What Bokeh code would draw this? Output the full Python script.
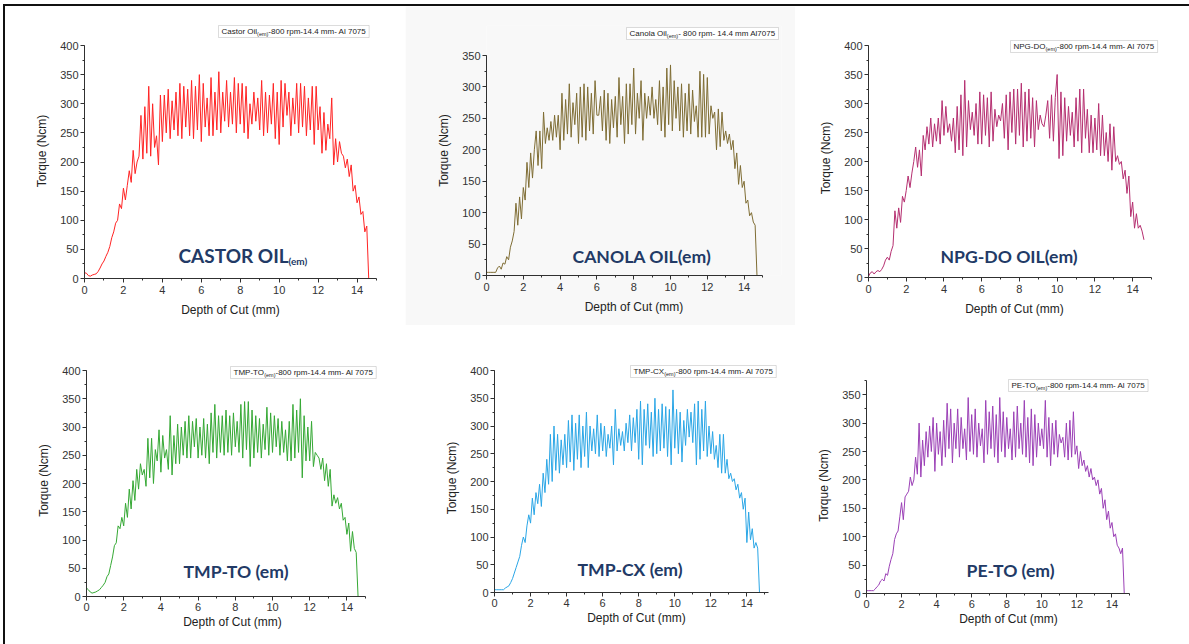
import math
from bokeh.plotting import figure
from bokeh.models import Range1d, SingleIntervalTicker, Label, BoxAnnotation
from bokeh.layouts import row, column
from bokeh.embed import file_html
from bokeh.resources import INLINE

# ---------------- data (Torque in Ncm, sampled every 0.1 mm of depth) ----------------
castor_torque = [
    10, 9, 5, 4, 6, 7, 8, 12, 18, 25,
    30, 38, 45, 55, 70, 80, 95, 100, 128, 120,
    155, 135, 160, 185, 165, 220, 180, 200, 210, 280,
    205, 295, 215, 330, 210, 300, 225, 245, 195, 315,
    235, 315, 250, 325, 240, 305, 255, 320, 245, 335,
    240, 330, 260, 325, 245, 340, 240, 330, 255, 350,
    235, 335, 260, 310, 245, 345, 245, 320, 255, 355,
    250, 320, 270, 340, 260, 320, 265, 345, 250, 335,
    265, 335, 250, 330, 240, 300, 265, 320, 270, 310,
    255, 340, 245, 320, 250, 315, 265, 335, 240, 320,
    230, 340, 260, 335, 280, 320, 245, 310, 265, 335,
    250, 335, 260, 330, 245, 310, 255, 330, 230, 330,
    255, 295, 215, 285, 220, 265, 240, 310, 195, 240,
    200, 235, 215, 210, 190, 205, 175, 195, 150, 160,
    130, 140, 110, 115, 80, 90, 0]

canola_torque = [
    5, 5, 5, 5, 5, 5, 12, 15, 10, 20,
    18, 30, 25, 45, 55, 70, 115, 80, 125, 90,
    140, 120, 180, 140, 195, 155, 200, 230, 175, 230,
    170, 260, 210, 235, 215, 245, 215, 255, 220, 255,
    200, 290, 215, 280, 225, 305, 220, 275, 240, 290,
    210, 300, 220, 305, 215, 300, 230, 290, 225, 310,
    255, 255, 285, 230, 295, 215, 290, 210, 280, 235,
    285, 220, 315, 240, 285, 210, 305, 225, 305, 240,
    330, 225, 290, 250, 310, 215, 290, 250, 285, 255,
    300, 250, 280, 240, 310, 230, 300, 220, 330, 240,
    335, 230, 310, 250, 300, 230, 305, 220, 290, 230,
    305, 225, 295, 245, 270, 220, 325, 220, 320, 220,
    315, 225, 270, 250, 260, 200, 265, 205, 260, 215,
    230, 210, 225, 200, 215, 170, 195, 145, 175, 140,
    150, 115, 120, 95, 100, 85, 80, 0]

npgdo_torque = [
    2, 8, 10, 6, 10, 12, 10, 14, 20, 30,
    35, 30, 45, 55, 115, 85, 120, 95, 140, 130,
    150, 175, 155, 180, 200, 225, 190, 220, 175, 245,
    220, 260, 230, 275, 225, 265, 235, 275, 230, 305,
    245, 295, 250, 265, 235, 275, 215, 295, 220, 315,
    210, 340, 225, 305, 255, 285, 245, 300, 230, 320,
    230, 315, 245, 310, 225, 320, 235, 290, 260, 280,
    270, 300, 240, 315, 220, 320, 250, 325, 230, 325,
    245, 335, 225, 320, 235, 325, 240, 310, 225, 305,
    255, 280, 265, 260, 280, 305, 240, 315, 235, 310,
    350, 205, 320, 210, 310, 235, 295, 245, 285, 225,
    310, 235, 325, 215, 325, 240, 290, 215, 280, 215,
    275, 220, 300, 210, 280, 210, 250, 200, 265, 185,
    260, 200, 210, 195, 200, 170, 185, 145, 175, 105,
    130, 85, 110, 85, 90, 80, 65]

tmpto_torque = [
    15, 12, 8, 6, 7, 8, 10, 12, 16, 20,
    25, 35, 40, 55, 70, 90, 95, 125, 120, 140,
    125, 165, 140, 190, 155, 205, 170, 225, 190, 235,
    215, 225, 195, 280, 210, 280, 200, 260, 240, 295,
    220, 285, 245, 260, 225, 320, 215, 285, 235, 305,
    235, 300, 250, 310, 245, 320, 245, 310, 265, 315,
    245, 300, 250, 315, 245, 305, 235, 325, 255, 340,
    245, 320, 255, 320, 250, 330, 255, 320, 250, 325,
    265, 310, 255, 340, 245, 345, 260, 345, 230, 330,
    245, 320, 255, 315, 245, 305, 260, 335, 250, 325,
    255, 320, 265, 315, 250, 310, 255, 295, 240, 310,
    240, 340, 245, 330, 255, 350, 210, 320, 240, 300,
    240, 310, 230, 255, 250, 245, 225, 245, 205, 235,
    195, 225, 160, 180, 165, 175, 155, 165, 135, 140,
    110, 130, 80, 115, 85, 78, 0]

tmpcx_torque = [
    5, 5, 5, 5, 5, 5, 8, 10, 12, 18,
    25, 35, 45, 55, 65, 85, 100, 90, 120, 140,
    125, 170, 140, 180, 160, 195, 155, 215, 180, 240,
    195, 285, 200, 300, 220, 285, 215, 275, 230, 285,
    225, 310, 235, 320, 220, 305, 240, 320, 225, 300,
    245, 325, 225, 300, 255, 295, 250, 320, 245, 305,
    255, 300, 245, 285, 260, 300, 230, 330, 255, 295,
    265, 290, 255, 305, 270, 320, 255, 315, 270, 330,
    240, 345, 230, 330, 265, 340, 260, 325, 245, 350,
    250, 330, 255, 340, 260, 335, 245, 330, 230, 365,
    260, 330, 250, 325, 235, 310, 265, 330, 280, 325,
    270, 340, 230, 345, 240, 330, 255, 345, 245, 300,
    250, 290, 240, 265, 225, 285, 215, 285, 215, 240,
    205, 215, 200, 205, 185, 195, 170, 180, 150, 170,
    90, 145, 95, 115, 80, 90, 80, 0]

peto_torque = [
    5, 5, 5, 5, 5, 8, 12, 15, 22, 25,
    22, 35, 32, 48, 60, 70, 95, 105, 110, 135,
    160, 130, 170, 175, 180, 205, 190, 200, 240, 210,
    300, 205, 270, 225, 285, 240, 295, 250, 310, 215,
    300, 245, 285, 225, 305, 240, 335, 255, 325, 230,
    300, 255, 325, 240, 310, 255, 290, 235, 345, 250,
    315, 245, 325, 240, 300, 260, 290, 230, 340, 245,
    320, 255, 330, 240, 315, 230, 345, 250, 320, 240,
    310, 255, 290, 235, 320, 240, 330, 255, 300, 245,
    340, 240, 310, 230, 325, 225, 315, 240, 300, 260,
    290, 255, 340, 240, 310, 225, 300, 245, 305, 240,
    280, 265, 275, 240, 300, 235, 305, 240, 320, 245,
    260, 220, 250, 225, 235, 215, 225, 205, 220, 200,
    205, 190, 200, 175, 185, 150, 165, 130, 145, 115,
    125, 100, 105, 85, 80, 70, 80, 0]

DEPTH_STEP = 0.1
x_ticks_interval = 2
y_ticks_interval = 50
x_label = "Depth of Cut (mm)"
y_label = "Torque (Ncm)"

legend_texts = [
    ("Castor Oil", "(em)", "-800 rpm-14.4 mm- Al 7075"),
    ("Canola Oil", "(em)", "- 800 rpm- 14.4 mm Al7075"),
    ("NPG-DO", "(em)", "-800 rpm-14.4 mm- Al 7075"),
    ("TMP-TO", "(em)", "-800 rpm-14.4 mm- Al 7075"),
    ("TMP-CX", "(em)", "-800 rpm-14.4 mm- Al 7075"),
    ("PE-TO", "(em)", "-800 rpm-14.4 mm- Al 7075"),
]
big_labels = [
    ("CASTOR OIL", "(em)"),
    ("CANOLA OIL(em)", None),
    ("NPG-DO OIL(em)", None),
    ("TMP-TO (em)", None),
    ("TMP-CX (em)", None),
    ("PE-TO (em)", None),
]
series = [castor_torque, canola_torque, npgdo_torque, tmpto_torque, tmpcx_torque, peto_torque]
y_ends = [400, 350, 400, 400, 400, 375]
x_ends = [15, 15, 15, 15, 15.2, 15]

# ---------------- layout / style (absolute page pixels) ----------------
colors = ["#ff2424", "#7f6d34", "#b52f70", "#35a834", "#2ba6e6", "#9b40b6"]
# figure box (x0, y0, x1, y1) and axis frame (left, top, right, bottom)
boxes = [(5, 6, 405, 325), (405, 6, 795, 325), (795, 6, 1189, 325),
         (5, 325, 405, 644), (405, 325, 795, 644), (795, 325, 1189, 644)]
frames = [(84, 45, 376, 278), (486, 55, 762, 275), (868, 45, 1151, 277),
          (86, 370, 365, 596), (494, 370, 768, 592), (866, 380, 1129, 593)]
legend_pos = [(218, 25, 37), (626, 27, 39), (1010, 40, 52),
              (230, 366, 378), (630, 365, 377), (1008, 379, 391)]
big_pos = [(178, 255), (572, 256), (940, 256), (183, 571), (577, 569), (966, 570)]
bg = ["white", "#f8f8f8", "white", "white", "white", "white"]
x_tick_standoff = [3, 3, 3, 2, 2, 2]
x_label_standoff = [6, 6, 6, 1, 1, 1]

ARIAL = {' ': 278, '-': 333, '.': 278, '(': 333, ')': 333, 'A': 667, 'C': 722, 'D': 722,
         'E': 667, 'G': 778, 'I': 278, 'M': 833, 'N': 722, 'O': 778, 'P': 667, 'T': 611,
         'X': 667, 'l': 222, 'a': 556, 'e': 556, 'm': 833, 'n': 556, 'o': 556, 'r': 333,
         's': 500, 't': 278, 'p': 556, 'i': 222}


def text_w(s, size):
    return sum(ARIAL.get(c, 556) for c in s) / 1000.0 * size


NAVY = "#223a66"
AXIS_COL = "#303030"
LEG_FS = 8.0
SUB_FS = 5.5
BIG_FS = 17.6


def make_panel(i):
    bx0, by0, bx1, by1 = boxes[i]
    fl, ft, fr, fb = frames[i]
    W, H = bx1 - bx0, by1 - by0
    xe, ye = x_ends[i], y_ends[i]

    def dx(px):
        return (px - fl) / (fr - fl) * xe

    def dy(py):
        return (fb - py) / (fb - ft) * ye

    lx, lt, lb = legend_pos[i]
    a, sub, b = legend_texts[i]
    wa, ws, wb = text_w(a, LEG_FS), text_w(sub, SUB_FS), text_w(b, LEG_FS)
    total = wa + ws + wb + 6

    # plotting frame enlarged so that the legend box sits inside it
    top_px = int(min(ft, lt - 2))
    right_px = int(math.ceil(max(fr, lx + total + 2)))

    p = figure(width=W, height=H, output_backend="svg", toolbar_location=None,
               x_range=Range1d(0, dx(right_px)), y_range=Range1d(0, dy(top_px)),
               min_border_left=int(fl - bx0), min_border_right=int(bx1 - right_px),
               min_border_top=int(top_px - by0), min_border_bottom=int(by1 - fb))
    p.title_location = None
    if "frame_align" in p.properties():
        p.frame_align = False
    p.background_fill_color = bg[i]
    p.border_fill_color = bg[i]
    p.outline_line_color = None
    p.grid.visible = False
    p.xaxis.ticker = SingleIntervalTicker(interval=x_ticks_interval, num_minor_ticks=2)
    p.yaxis.ticker = SingleIntervalTicker(interval=y_ticks_interval, num_minor_ticks=2)
    p.xaxis.bounds = (0, xe)
    p.yaxis.bounds = (0, ye)
    p.xaxis.axis_label = x_label
    p.yaxis.axis_label = y_label
    for ax in p.xaxis + p.yaxis:
        ax.axis_line_color = AXIS_COL
        ax.major_tick_line_color = AXIS_COL
        ax.minor_tick_line_color = AXIS_COL
        ax.major_tick_in = 0
        ax.major_tick_out = 4
        ax.minor_tick_in = 0
        ax.minor_tick_out = 2
        ax.major_label_text_font = "Liberation Sans"
        ax.major_label_text_font_size = "11px"
        ax.major_label_text_color = "#333333"
        ax.axis_label_text_font = "Liberation Sans"
        ax.axis_label_text_font_size = "12px"
        ax.axis_label_text_font_style = "normal"
        ax.axis_label_text_color = "#222222"
    p.yaxis.major_label_standoff = 2
    p.yaxis.axis_label_standoff = 8
    p.xaxis.major_label_standoff = x_tick_standoff[i]
    p.xaxis.axis_label_standoff = x_label_standoff[i]

    ys = series[i]
    xs = [round(k * DEPTH_STEP, 2) for k in range(len(ys))]
    p.line(xs, ys, line_color=colors[i], line_width=1.0)

    # legend box
    p.add_layout(BoxAnnotation(left=dx(lx), right=dx(lx + total), top=dy(lt), bottom=dy(lb),
                               fill_color="white", fill_alpha=1.0,
                               line_color="#8a8a8a", line_width=1))
    cy = (lt + lb) / 2.0
    common = dict(text_font="Liberation Sans", text_color="#222222", text_align="left",
                  text_baseline="middle")
    p.add_layout(Label(x=dx(lx + 3), y=dy(cy), text=a, text_font_size=f"{LEG_FS}px", **common))
    p.add_layout(Label(x=dx(lx + 3 + wa), y=dy(cy + 2), text=sub, text_font_size=f"{SUB_FS}px", **common))
    p.add_layout(Label(x=dx(lx + 3 + wa + ws), y=dy(cy), text=b, text_font_size=f"{LEG_FS}px", **common))

    # big name label
    gx, gy = big_pos[i]
    main, subbig = big_labels[i]
    fs = 19 if subbig else BIG_FS
    p.add_layout(Label(x=dx(gx), y=dy(gy), text=main, text_font="Lato",
                       text_font_style="bold", text_font_size=f"{fs}px", text_color=NAVY,
                       text_align="left", text_baseline="middle"))
    if subbig:
        p.add_layout(Label(x=dx(288), y=dy(gy + 5), text=subbig, text_font="Lato",
                           text_font_style="bold", text_font_size="10px", text_color=NAVY,
                           text_align="left", text_baseline="middle"))
    return p


figs = [column(make_panel(i)) for i in range(6)]
layout = column(row(figs[0], figs[1], figs[2]), row(figs[3], figs[4], figs[5]),
                styles={"margin-left": "3px", "margin-top": "4px",
                        "border-left": "2px solid #111", "border-top": "2px solid #111"})

open("out.html", "w").write(file_html(layout, INLINE))
